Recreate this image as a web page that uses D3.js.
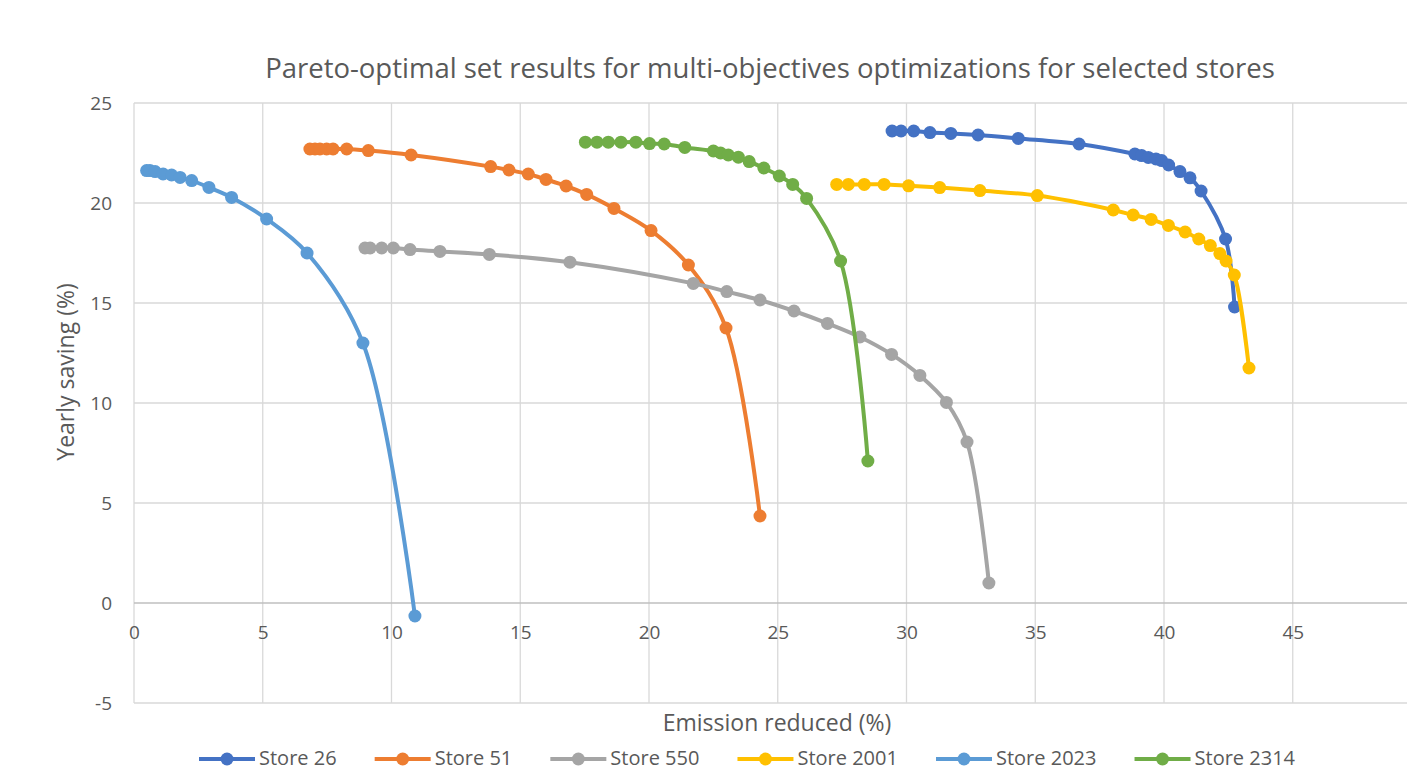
<!DOCTYPE html>
<html>
<head>
<meta charset="utf-8">
<script src="https://cdn.jsdelivr.net/npm/d3@7"></script>
<style>
    body { margin: 0; background: #fff; }
    text { font-family: "Open Sans", sans-serif; fill: #595959; }
</style>
</head>
<body>
<div id="chart"></div>
<script>
// series
const storeNames = ["Store 26", "Store 51", "Store 550", "Store 2001", "Store 2023", "Store 2314"];
const storeColors = ["#4472C4", "#ED7D31", "#A5A5A5", "#FFC000", "#5B9BD5", "#70AD47"];

const store26X = [29.44, 29.79, 30.28, 30.91, 31.72, 32.78, 34.34, 36.70, 38.87, 39.13, 39.39, 39.69, 39.91, 40.18, 40.62, 41.01, 41.44, 42.39, 42.74];
const store26Y = [23.6, 23.6, 23.6, 23.52, 23.48, 23.4, 23.23, 22.95, 22.45, 22.37, 22.28, 22.2, 22.12, 21.9, 21.57, 21.26, 20.6, 18.2, 14.8];

const store51X = [6.83, 7.03, 7.22, 7.48, 7.73, 8.26, 9.10, 10.76, 13.85, 14.56, 15.31, 16.0, 16.78, 17.58, 18.64, 20.08, 21.53, 22.99, 24.31];
const store51Y = [22.7, 22.7, 22.7, 22.7, 22.7, 22.7, 22.62, 22.4, 21.82, 21.65, 21.45, 21.18, 20.85, 20.43, 19.73, 18.62, 16.9, 13.75, 4.35];

const store550X = [8.97, 9.17, 9.62, 10.07, 10.72, 11.88, 13.80, 16.93, 21.72, 23.02, 24.31, 25.63, 26.93, 28.19, 29.42, 30.52, 31.55, 32.35, 33.2];
const store550Y = [17.75, 17.75, 17.75, 17.75, 17.67, 17.58, 17.43, 17.04, 15.98, 15.57, 15.15, 14.6, 13.98, 13.3, 12.43, 11.38, 10.03, 8.05, 1.0];

const store2001X = [27.29, 27.74, 28.36, 29.13, 30.08, 31.29, 32.85, 35.08, 38.03, 38.80, 39.50, 40.17, 40.82, 41.35, 41.80, 42.17, 42.41, 42.73, 43.30];
const store2001Y = [20.93, 20.93, 20.93, 20.93, 20.86, 20.77, 20.62, 20.37, 19.65, 19.4, 19.18, 18.88, 18.55, 18.2, 17.87, 17.47, 17.1, 16.4, 11.75];

const store2023X = [0.49, 0.62, 0.82, 1.13, 1.46, 1.79, 2.24, 2.91, 3.79, 5.15, 6.72, 8.89, 10.91];
const store2023Y = [21.62, 21.62, 21.57, 21.45, 21.4, 21.28, 21.12, 20.78, 20.28, 19.2, 17.5, 13.0, -0.65];

const store2314X = [17.53, 17.98, 18.42, 18.91, 19.49, 20.02, 20.59, 21.39, 22.50, 22.78, 23.08, 23.47, 23.89, 24.46, 25.06, 25.58, 26.12, 27.44, 28.50];
const store2314Y = [23.04, 23.04, 23.04, 23.04, 23.04, 22.97, 22.95, 22.78, 22.6, 22.5, 22.4, 22.29, 22.07, 21.75, 21.35, 20.93, 20.23, 17.1, 7.1];

const xTicks = [0, 5, 10, 15, 20, 25, 30, 35, 40, 45, 50];
const yTicks = [-5, 0, 5, 10, 15, 20, 25];

const chartTitle = "Pareto-optimal set results for multi-objectives optimizations for selected stores";
const xTitle = "Emission reduced (%)";
const yTitle = "Yearly saving (%)";

// build the series table
const storeX = [store26X, store51X, store550X, store2001X, store2023X, store2314X];
const storeY = [store26Y, store51Y, store550Y, store2001Y, store2023Y, store2314Y];
const series = storeNames.map((name, i) => ({
    name: name,
    color: storeColors[i],
    points: storeX[i].map((x, j) => ({x: x, y: storeY[i][j]}))
}));

// svg set up
let svgWidth = 1407;
let svgHeight = 771;
let plot = {left: 134, top: 103, right: 1421.5, bottom: 703};

let svg = d3.select("#chart")
    .append("svg")
    .attr("width", svgWidth)
    .attr("height", svgHeight);

let xScale = d3.scaleLinear().domain([0, 50]).range([plot.left, plot.right]);
let yScale = d3.scaleLinear().domain([-5, 25]).range([plot.bottom, plot.top]);

// gridlines
let grid = svg.append("g");
grid.selectAll(".vgrid")
    .data(xTicks)
    .enter()
    .append("line")
    .attr("x1", d => xScale(d))
    .attr("x2", d => xScale(d))
    .attr("y1", plot.top)
    .attr("y2", plot.bottom)
    .attr("stroke", "#d9d9d9")
    .attr("stroke-width", 1.3);
grid.selectAll(".hgrid")
    .data(yTicks)
    .enter()
    .append("line")
    .attr("x1", plot.left)
    .attr("x2", plot.right)
    .attr("y1", d => yScale(d))
    .attr("y2", d => yScale(d))
    .attr("stroke", d => d === 0 ? "#bfbfbf" : "#d9d9d9")
    .attr("stroke-width", d => d === 0 ? 1.6 : 1.3);

// axes (labels only, lines drawn by the grid)
let bottomAxis = d3.axisBottom(xScale).tickValues(xTicks.slice(0, 10)).tickFormat(d => d).tickSize(0).tickPadding(0);
let leftAxis = d3.axisLeft(yScale).tickValues(yTicks).tickFormat(d => d).tickSize(0).tickPadding(22);

let xAxisG = svg.append("g")
    .attr("transform", `translate(0,${yScale(0) + 22})`)
    .call(bottomAxis);
let yAxisG = svg.append("g")
    .attr("transform", `translate(${plot.left},0)`)
    .call(leftAxis);
[xAxisG, yAxisG].forEach(g => {
    g.select(".domain").remove();
    g.selectAll("text")
        .attr("font-size", "19px")
        .attr("fill", "#595959")
        .style("font-family", "'Open Sans', sans-serif");
});
yAxisG.selectAll("text").attr("dy", "0.35em");
xAxisG.selectAll("text").attr("dy", "0.72em");

// lines and markers
let line = d3.line()
    .x(d => xScale(d.x))
    .y(d => yScale(d.y))
    .curve(d3.curveCatmullRom.alpha(0.5));

let seriesGroup = svg.selectAll(".series")
    .data(series)
    .enter()
    .append("g");
seriesGroup.append("path")
    .attr("d", d => line(d.points))
    .attr("fill", "none")
    .attr("stroke", d => d.color)
    .attr("stroke-width", 4)
    .attr("stroke-linejoin", "round")
    .attr("stroke-linecap", "round");
seriesGroup.each(function(s) {
    d3.select(this).selectAll("circle")
        .data(s.points)
        .enter()
        .append("circle")
        .attr("cx", d => xScale(d.x))
        .attr("cy", d => yScale(d.y))
        .attr("r", 6.5)
        .attr("fill", s.color);
});

// titles
svg.append("text")
    .attr("x", 770)
    .attr("y", 78)
    .attr("text-anchor", "middle")
    .attr("font-size", "27.5px")
    .text(chartTitle);
svg.append("text")
    .attr("x", 777)
    .attr("y", 731)
    .attr("text-anchor", "middle")
    .attr("font-size", "23px")
    .text(xTitle);
svg.append("text")
    .attr("transform", "translate(74,372) rotate(-90)")
    .attr("text-anchor", "middle")
    .attr("font-size", "23px")
    .text(yTitle);

// legend
let legend = svg.append("g");
let legendY = 759;
let items = legend.selectAll(".item")
    .data(series)
    .enter()
    .append("g");
items.append("line")
    .attr("x1", 0).attr("x2", 56)
    .attr("y1", legendY).attr("y2", legendY)
    .attr("stroke", d => d.color)
    .attr("stroke-width", 4);
items.append("circle")
    .attr("cx", 28).attr("cy", legendY)
    .attr("r", 6.5)
    .attr("fill", d => d.color);
items.append("text")
    .attr("x", 60)
    .attr("y", legendY + 6)
    .attr("font-size", "20px")
    .text(d => d.name);
// lay the items out in a row between the first line start and last label end
let widths = [];
items.each(function() { widths.push(60 + d3.select(this).select("text").node().getComputedTextLength()); });
let legendLeft = 199, legendRight = 1295;
let gap = (legendRight - legendLeft - d3.sum(widths)) / (widths.length - 1);
let cursor = legendLeft;
items.attr("transform", (d, i) => {
    let t = `translate(${cursor},0)`;
    cursor += widths[i] + gap;
    return t;
});
</script>
</body>
</html>
